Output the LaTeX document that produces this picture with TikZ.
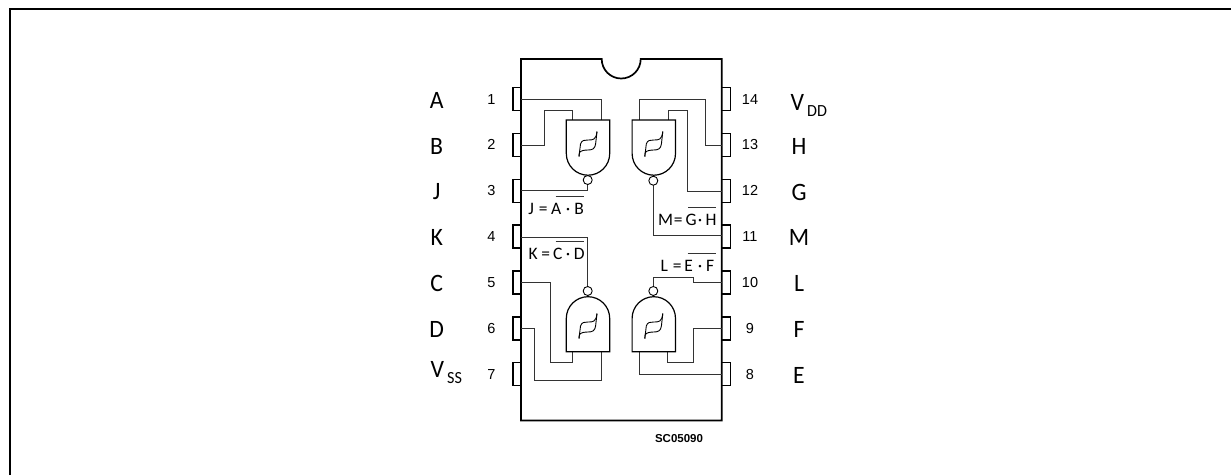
\documentclass[tikz,border=0pt]{standalone}
\usepackage{fontspec}
\setmainfont{Liberation Sans}
\newfontfamily\lblfont[FakeStretch=0.95]{Carlito}
\newfontfamily\fmlfont[FakeStretch=1.0]{Carlito}
\newfontfamily\numfont{Liberation Sans}
\newcommand\cc[2]{\makebox[#1pt][c]{#2}}
\begin{document}
\begin{tikzpicture}[x=1pt,y=-1pt,
  thick line/.style={line width=1.7pt,black},
  wire/.style={line width=0.85pt,black!80},
  gatebody/.style={line width=1.2pt,black,fill=white},
  pinbox/.style={line width=1.5pt,black},
  letter/.style={font=\lblfont\fontsize{25}{25}\selectfont,anchor=center,inner sep=0},
  pinnum/.style={font=\numfont\fontsize{14.5}{15}\selectfont,anchor=center,inner sep=0},
  formula/.style={font=\fmlfont\fontsize{17.5}{18}\selectfont,anchor=west,inner sep=0},
  bar/.style={line width=.8pt,black!80},
  hyst/.pic={\draw[line width=.9pt] (-9,12.5) -- (-7.5,0) .. controls (-6.5,-4) and (-3,-4) .. (0,-4) .. controls (5,-4) and (8,-4) .. (9,-12.5);
             \draw[line width=.9pt] (-9,12.5) -- (-8.7,9) .. controls (-8,6.5) and (-3,6) .. (0,6) .. controls (4,6) and (7,5) .. (7.6,0) -- (9,-12.5);}]
\useasboundingbox (0,0) rectangle (1231,475);
\draw[line width=2pt] (10,475) -- (10,9) -- (1231,9);
\draw[thick line] (521,59) -- (601.7,59) arc[start angle=180,end angle=360,x radius=19.5,y radius=-19.5] -- (721.7,59) -- (721.7,420.5) -- (521,420.5) -- cycle;
\foreach \i/\y in {1/87.7,2/133.4,3/179.3,4/225.1,5/271,6/316.8,7/362.7}{
  \draw[pinbox] (521,\y) -- (512.8,\y) -- (512.8,\y+23) -- (521,\y+23);
  \node[pinnum] (p\i) at (491.5,\y+11.5) {\i};
}
\foreach \i/\y in {14/87.7,13/133.4,12/179.3,11/225.1,10/271,9/316.8,8/362.7}{
  \draw[pinbox] (721.7,\y) -- (730.5,\y) -- (730.5,\y+23) -- (721.7,\y+23);
  \node[pinnum] (p\i) at (750,\y+11.5) {\i};
}
% wires
\draw[wire] (521,99.3) -- (601.3,99.3) -- (601.3,120);
\draw[wire] (521,145.3) -- (544.3,145.3) -- (544.3,110.7) -- (572.7,110.7) -- (572.7,120);
\draw[wire] (587.7,184) -- (587.7,190.7) -- (521,190.7);
\draw[wire] (653.3,184) -- (653.3,235.7) -- (721.7,235.7);
\draw[wire] (639.3,120) -- (639.3,99.3) -- (705,99.3) -- (705,145.3) -- (721.7,145.3);
\draw[wire] (668.7,120) -- (668.7,110.7) -- (687.7,110.7) -- (687.7,191) -- (721.7,191);
\draw[wire] (521,237) -- (587.7,237) -- (587.7,287);
\draw[wire] (521,282.7) -- (550,282.7) -- (550,362.7) -- (572.3,362.7) -- (572.3,351.7);
\draw[wire] (521,328.7) -- (534,328.7) -- (534,380) -- (601,380) -- (601,351.7);
\draw[wire] (653.3,287) -- (653.3,277) -- (693.3,277) -- (693.3,282.7) -- (721.7,282.7);
\draw[wire] (721.7,328.7) -- (693.7,328.7) -- (693.7,362.7) -- (667,362.7) -- (667,351.7);
\draw[wire] (721.7,374.3) -- (639,374.3) -- (639,351.7);
% gates
\foreach \n/\cx in {a/588,m/653.8}{
  \draw[gatebody] (\cx-21.7,120) -- (\cx+21.7,120) -- (\cx+21.7,153.5) arc[start angle=0,end angle=-180,x radius=21.7,y radius=-21.7] -- cycle;
  \pic at (\cx,144) {hyst};
}
\foreach \n/\cx in {k/588,l/653.8}{
  \draw[gatebody] (\cx-21.7,351.7) -- (\cx+21.7,351.7) -- (\cx+21.7,318.4) arc[start angle=0,end angle=180,x radius=21.7,y radius=-21.7] -- cycle;
  \pic at (\cx,326) {hyst};
}
\foreach \x/\y in {587.7/180,653.3/180.7,587.7/291,653.3/291}{
  \draw[line width=.9pt,fill=white] (\x,\y) circle[radius=4.5];
}
% letters
\node[letter] (la) at (436.7,100) {A};
\node[letter] (lb) at (436.7,146) {B};
\node[letter] (lj) at (436.7,192) {J};
\node[letter] (lk) at (436.7,237) {K};
\node[letter] (lc) at (436.7,283) {C};
\node[letter] (ld) at (436.7,329) {D};
\node[letter,anchor=base west] (lvss) at (430.5,377) {V\kern3pt\raisebox{-6pt}{\fontsize{17}{17}\selectfont SS}};
\node[letter,anchor=base west] (lvdd) at (790.5,110) {V\kern3pt\raisebox{-6pt}{\fontsize{17}{17}\selectfont DD}};
\node[letter] (lh) at (799,146) {H};
\node[letter] (lg) at (799,192) {G};
\node[letter] (lm) at (799,237) {M};
\node[letter] (ll) at (799,283) {L};
\node[letter] (lf) at (799,329) {F};
\node[letter] (le) at (799,375) {E};
% formulas
\node[formula] (fj) at (525,209) {\cc{12}{J}\cc{12}{=}\cc{14}{A}\cc{10}{·}\cc{12}{B}};
\draw[bar] (555.7,196) -- (584,196);
\node[formula] (fm) at (660,220) {\cc{11}{M}\cc{14}{=}\cc{12}{G}\cc{6}{·}\cc{16}{H}};
\draw[bar] (688,207.3) -- (716,207.3);
\node[formula] (fk) at (527,254) {\cc{12}{K}\cc{13}{=}\cc{11}{C}\cc{10}{·}\cc{12}{D}};
\draw[bar] (555.7,241.7) -- (584,241.7);
\node[formula] (fl) at (658,265.7) {\cc{12}{L}\cc{14}{=}\cc{9}{E}\cc{14}{·}\cc{6}{F}};
\draw[bar] (687.7,253.3) -- (716,253.3);
\node[font=\numfont\bfseries\fontsize{11.5}{12}\selectfont,inner sep=0] (sc) at (679,439) {SC05090};
\end{tikzpicture}
\end{document}
